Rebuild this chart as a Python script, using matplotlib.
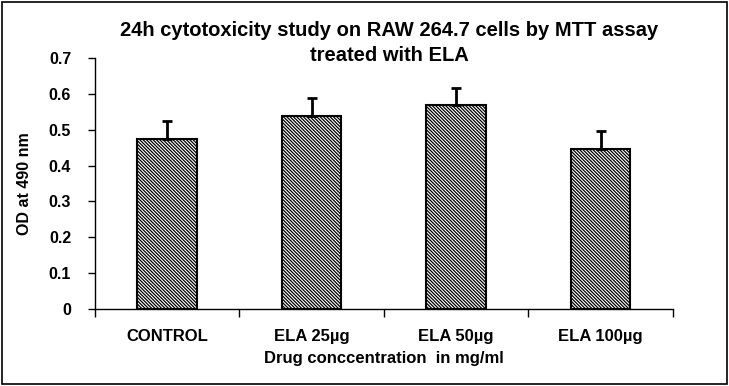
import numpy as np
import matplotlib.pyplot as plt
from matplotlib.patches import Rectangle

plt.rcParams['font.family'] = ['Liberation Sans', 'DejaVu Sans']
plt.rcParams['font.weight'] = 'bold'
plt.rcParams['hatch.linewidth'] = 0.9

categories = ['CONTROL', 'ELA 25µg', 'ELA 50µg', 'ELA 100µg']
od_means = [0.475, 0.538, 0.568, 0.447]
od_err = [0.048, 0.050, 0.049, 0.050]

fig = plt.figure(figsize=(7.29, 3.86), dpi=100)
ax = fig.add_axes([0.130, 0.199, 0.793, 0.651])

x = np.arange(len(categories))
ax.bar(x, od_means, width=0.41, color='white', edgecolor='black',
       linewidth=1.5, hatch='\\' * 10, zorder=2)
ax.errorbar(x, od_means, yerr=[np.zeros(len(od_err)), od_err], fmt='none',
            ecolor='black', elinewidth=2, capsize=3.5, capthick=2, zorder=3)

ax.set_xlim(-0.5, len(categories) - 0.5)
ax.set_ylim(0, 0.7)
ax.set_yticks(np.arange(0, 0.71, 0.1))
ax.set_yticklabels(['0'] + [f'{v:.1f}' for v in np.arange(0.1, 0.71, 0.1)])
ax.set_xticks(x)
ax.set_xticklabels(categories, fontsize=12, fontweight='bold')
ax.tick_params(axis='x', which='major', length=0, pad=14)
ax.set_xticks(np.arange(-0.5, len(categories)), minor=True)
ax.tick_params(axis='x', which='minor', length=6, direction='out', width=1)
ax.tick_params(axis='y', length=5, direction='out', width=1, labelsize=11.5, pad=12)

for s in ['top', 'right']:
    ax.spines[s].set_visible(False)
for s in ['left', 'bottom']:
    ax.spines[s].set_linewidth(1)

ax.set_xlabel('Drug conccentration  in mg/ml', fontsize=12, fontweight='bold', labelpad=5)
ax.set_ylabel('OD at 490 nm', fontsize=11.5, fontweight='bold', labelpad=12)
fig.text(0.534, 0.945, '24h cytotoxicity study on RAW 264.7 cells by MTT assay\ntreated with ELA',
         fontsize=14.5, fontweight='bold', ha='center', va='top', linespacing=1.4)

fig.patches.append(Rectangle((0.003, 0.004), 0.994, 0.99, transform=fig.transFigure,
                             fill=False, edgecolor='black', linewidth=1.2))

fig.savefig('out.png', dpi=100)
